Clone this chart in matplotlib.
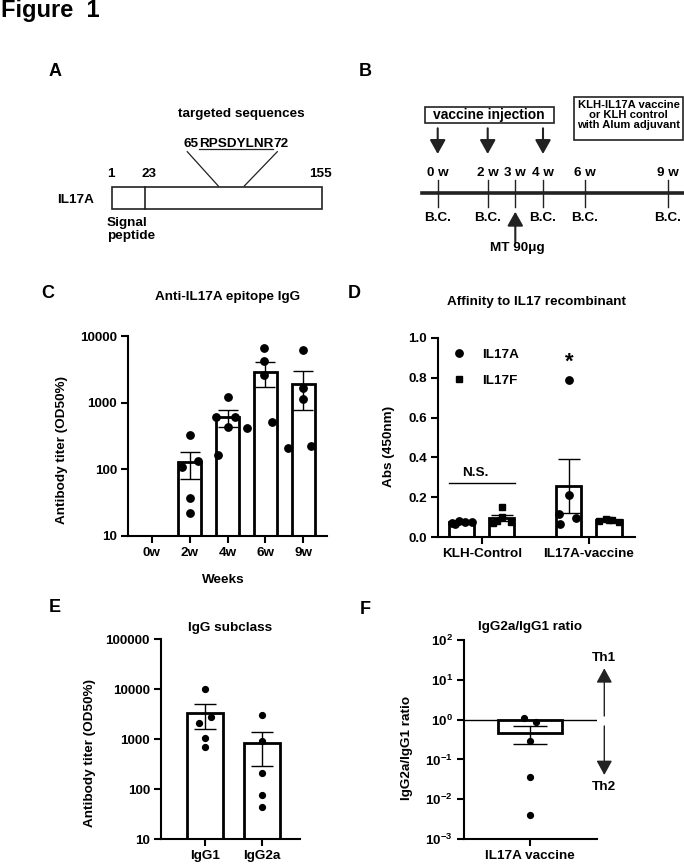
import numpy as np
import matplotlib.pyplot as plt
from matplotlib.patches import Rectangle
from matplotlib.ticker import NullLocator

plt.rcParams['font.family'] = 'Liberation Sans'
plt.rcParams['font.weight'] = 'bold'
plt.rcParams['axes.labelweight'] = 'bold'
plt.rcParams['axes.titleweight'] = 'bold'
plt.rcParams['font.size'] = 9.7
plt.rcParams['axes.titlesize'] = 9.7
plt.rcParams['axes.labelsize'] = 9.7
plt.rcParams['mathtext.fontset'] = 'custom'
plt.rcParams['mathtext.rm'] = 'Liberation Sans:bold'
plt.rcParams['mathtext.it'] = 'Liberation Sans:bold'
plt.rcParams['mathtext.bf'] = 'Liberation Sans:bold'
plt.rcParams['axes.linewidth'] = 1.5

# ---- data ----
# C: anti-IL17A epitope IgG titer, individual mice per week
weeks = ['0w', '2w', '4w', '6w', '9w']
titer_pts = [[],
             [330, 110, 135, 37, 22],
             [1220, 600, 600, 437, 162],
             [6500, 4270, 2640, 418, 515],
             [6170, 1650, 1125, 207, 221]]
titer_jit = [[],
             [0, -0.21, 0.23, 0, 0],
             [0, -0.31, 0.20, 0, -0.26],
             [-0.03, -0.03, -0.03, -0.49, 0.18],
             [0, 0, 0, -0.41, 0.21]]

# D: affinity to IL17A / IL17F recombinant
groups = ['KLH-Control', 'IL17A-vaccine']
il17a_pts = [[0.07, 0.08, 0.075, 0.075, 0.065],
             [0.788, 0.21, 0.114, 0.097, 0.064]]
il17a_jit = [[-0.09, -0.03, 0.03, 0.09, -0.06],
             [0, 0, -0.09, 0.07, -0.085]]
il17f_pts = [[0.15, 0.10, 0.07, 0.075, 0.08],
             [0.09, 0.085, 0.08, 0.075, 0.085]]
il17f_jit = [[0, 0, -0.085, 0.085, -0.05],
             [-0.03, 0.03, -0.09, 0.09, 0]]

# E: IgG subclass
subclasses = ['IgG1', 'IgG2a']
sub_pts = [[10000, 2100, 2700, 1050, 700],
           [3000, 900, 205, 77, 43]]
sub_jit = [[0, -0.11, 0.105, 0, 0],
           [0, 0, 0, 0, 0]]

# F: IgG2a/IgG1 ratio
ratio_pts = [1.12, 0.89, 0.286, 0.036, 0.0041]
ratio_jit = [-0.094, 0.1, 0, 0, 0]

# B: timeline
tl_weeks = ['0 w', '2 w', '3 w', '4 w', '6 w', '9 w']
tl_x = [437.7, 487.7, 515.3, 543, 584.7, 668]
bc_at = ['0 w', '2 w', '4 w', '6 w', '9 w']
inj_at = ['0 w', '2 w', '4 w']

W, H = 684, 866


def box(l, t, r, b):
    return [l / W, 1 - b / H, (r - l) / W, (b - t) / H]


def mean_sem(v):
    v = np.asarray(v, float)
    return v.mean(), v.std(ddof=1) / np.sqrt(len(v))


def style(ax):
    for s in ['top', 'right']:
        ax.spines[s].set_visible(False)
    ax.tick_params(length=5, width=1.5, pad=3, labelsize=9.7)


fig = plt.figure(figsize=(W / 100, H / 100), dpi=100)

# ---- C ----
axC = fig.add_axes(box(128, 336, 327, 536))
axC.set_yscale('log')
for i, pts in enumerate(titer_pts):
    if not pts:
        continue
    m, s = mean_sem(pts)
    axC.bar(i, m, width=0.61, color='white', edgecolor='black', lw=2, zorder=1)
    axC.errorbar(i, m, yerr=s, color='black', lw=1, capsize=7, capthick=1, zorder=2)
    axC.plot(i + np.array(titer_jit[i]), pts, 'o', color='black', ms=5.3, zorder=3)
axC.set_ylim(10, 10000)
axC.set_xlim(-0.63, 4.63)
axC.set_yticks([10, 100, 1000, 10000])
axC.set_yticklabels(['10', '100', '1000', '10000'])
axC.yaxis.set_minor_locator(NullLocator())
axC.set_xticks(range(len(weeks)))
axC.set_xticklabels(weeks)
axC.set_ylabel('Antibody titer (OD50%)')
axC.yaxis.set_label_coords(-0.30, 0.43)
axC.set_xlabel('Weeks')
axC.xaxis.set_label_coords(0.477, -0.19)
axC.set_title('Anti-IL17A epitope IgG', pad=26)
style(axC)

# ---- D ----
axD = fig.add_axes(box(438, 338, 635, 537))
off, bw = 0.187, 0.234
for g in range(len(groups)):
    for pts, jit, sgn, mk, ms in [(il17a_pts, il17a_jit, -1, 'o', 5.3),
                                  (il17f_pts, il17f_jit, 1, 's', 4.8)]:
        x = g + sgn * off
        m, s = mean_sem(pts[g])
        axD.bar(x, m, width=bw, color='white', edgecolor='black', lw=2, zorder=1)
        axD.errorbar(x, m, yerr=s, color='black', lw=1, capsize=8, capthick=1, zorder=2)
        axD.plot(x + np.array(jit[g]), pts[g], mk, color='black', ms=ms, zorder=3)
axD.set_ylim(0, 1.0)
axD.set_xlim(-0.41, 1.43)
axD.set_yticks([0, 0.2, 0.4, 0.6, 0.8, 1.0])
axD.set_yticklabels(['0.0', '0.2', '0.4', '0.6', '0.8', '1.0'])
axD.set_xticks(range(len(groups)))
axD.set_xticklabels(groups)
axD.set_ylabel('Abs (450nm)')
axD.yaxis.set_label_coords(-0.218, 0.454)
axD.set_title('Affinity to IL17 recombinant', pad=23.4)
h1, = axD.plot([], [], 'o', color='black', ms=5.3)
h2, = axD.plot([], [], 's', color='black', ms=4.8)
axD.legend([h1, h2], ['IL17A', 'IL17F'], loc='upper left', bbox_to_anchor=(0.074, 0.948),
           frameon=False, borderpad=0, borderaxespad=0, handlelength=1.0,
           handletextpad=1.18, labelspacing=1.0, fontsize=9.7)
axD.plot([-0.305, 0.311], [0.27, 0.27], color='black', lw=1)
axD.text(-0.063, 0.324, 'N.S.', ha='center', va='center')
axD.text(1 - off, 0.88, '*', ha='center', va='center', fontsize=16)
style(axD)

# ---- E ----
axE = fig.add_axes(box(161, 639, 300, 839))
axE.set_yscale('log')
for i, pts in enumerate(sub_pts):
    m, s = mean_sem(pts)
    axE.bar(i, m, width=0.63, color='white', edgecolor='black', lw=2, zorder=1)
    axE.errorbar(i, m, yerr=s, color='black', lw=1, capsize=8, capthick=1, zorder=2)
    axE.plot(i + np.array(sub_jit[i]), pts, 'o', color='black', ms=4.2, zorder=3)
axE.set_ylim(10, 100000)
axE.set_xlim(-0.77, 1.67)
axE.set_yticks([10, 100, 1000, 10000, 100000])
axE.set_yticklabels(['10', '100', '1000', '10000', '100000'])
axE.yaxis.set_minor_locator(NullLocator())
axE.set_xticks(range(len(subclasses)))
axE.set_xticklabels(subclasses)
axE.set_ylabel('Antibody titer (OD50%)')
axE.yaxis.set_label_coords(-0.468, 0.43)
axE.set_title('IgG subclass', pad=5.8)
style(axE)

# ---- F ----
axF = fig.add_axes(box(464, 640, 597, 839))
axF.set_yscale('log')
m, s = mean_sem(ratio_pts)
axF.axhline(1, color='black', lw=1, zorder=1)
axF.bar(0, m - 1, bottom=1, width=1.0, color='white', edgecolor='black', lw=2, zorder=2)
axF.errorbar(0, m, yerr=s, color='black', lw=1, capsize=12, capthick=1, zorder=3)
axF.plot(np.array(ratio_jit), ratio_pts, 'o', color='black', ms=4.2, zorder=4)
axF.set_ylim(1e-3, 1e2)
axF.set_xlim(-1.03, 1.05)
exps = [-3, -2, -1, 0, 1, 2]
axF.set_yticks([10.0 ** e for e in exps])
axF.set_yticklabels([r'$10^{%d}$' % e for e in exps])
axF.yaxis.set_minor_locator(NullLocator())
axF.set_xticks([0])
axF.set_xticklabels(['IL17A vaccine'])
axF.set_ylabel('IgG2a/IgG1 ratio')
axF.yaxis.set_label_coords(-0.383, 0.456)
axF.set_title('IgG2a/IgG1 ratio', pad=7.2)
style(axF)

# ---- overlay for diagrams and panel letters (pixel coords) ----
ax0 = fig.add_axes([0, 0, 1, 1], zorder=10)
ax0.set_xlim(0, W)
ax0.set_ylim(H, 0)
ax0.axis('off')
ax0.patch.set_alpha(0)

ax0.text(1, 11, 'Figure  1', fontsize=17, ha='left', va='center')
for lab, (x, y) in {'A': (55, 72), 'B': (365, 72), 'C': (48, 293),
                    'D': (354, 293), 'E': (55, 608), 'F': (365, 609)}.items():
    ax0.text(x, y, lab, fontsize=13, ha='center', va='center')

# A: IL17A domain scheme
ax0.add_patch(Rectangle((112, 186.7), 209.7, 22.6, fill=False, lw=1.2, ec='#222'))
ax0.plot([145, 145], [186.7, 209.3], color='#222', lw=1.2)
ax0.text(76, 200, 'IL17A', ha='center', va='center')
ax0.text(111, 174.3, '1', ha='center', va='center')
ax0.text(149.3, 174.3, '23', ha='center', va='center')
ax0.text(320, 174.3, '155', ha='center', va='center')
ax0.text(106.7, 229.5, 'Signal\npeptide', ha='left', va='center', linespacing=1.1)
ax0.text(241.7, 114.3, 'targeted sequences', ha='center', va='center')
ax0.plot([187.3, 218.3], [151.7, 186], color='#222', lw=0.9)
ax0.plot([277.3, 244.3], [151.7, 186], color='#222', lw=0.9)
mid = ax0.text(236, 146.8, 'RPSDYLNR', ha='center', va='baseline')
fig.canvas.draw()
bb = mid.get_window_extent().transformed(ax0.transData.inverted())
x0, x1 = sorted([bb.x0, bb.x1])
ax0.text(x0, 146.8, '65', ha='right', va='baseline')
ax0.text(x1, 146.8, '72', ha='left', va='baseline')
ax0.plot([x0, x1], [148.6, 148.6], color='#222', lw=0.9)

# B: immunization timeline
ax0.plot([422, 684], [193.3, 193.3], color='#222', lw=2.6)
arrow = dict(arrowstyle='-|>,head_length=0.5,head_width=0.28', mutation_scale=17,
             lw=1.5, color='#222', shrinkA=0, shrinkB=0)
for lab, x in zip(tl_weeks, tl_x):
    ax0.plot([x, x], [180, 206.7], color='#222', lw=1.0)
    ax0.text(x, 173.3, lab, ha='center', va='center')
    if lab in bc_at:
        ax0.text(x, 217.7, 'B.C.', ha='center', va='center')
    if lab in inj_at:
        ax0.annotate('', xy=(x, 154), xytext=(x, 128.3), arrowprops=arrow)
x3 = tl_x[tl_weeks.index('3 w')]
ax0.annotate('', xy=(x3, 211.7), xytext=(x3, 242.7), arrowprops=arrow)
ax0.text(517, 248.3, 'MT 90μg', ha='center', va='center')
ax0.add_patch(Rectangle((425.3, 106.7), 128.4, 16, fill=False, lw=1.2, ec='#222'))
ax0.text(489.3, 114.7, 'vaccine injection', ha='center', va='center', fontsize=10)
ax0.add_patch(Rectangle((574.3, 97.3), 108.4, 42.7, fill=False, lw=1.2, ec='#222'))
ax0.text(628.7, 114.6, 'KLH-IL17A vaccine\nor KLH control\nwith Alum adjuvant',
         ha='center', va='center', fontsize=8.1, linespacing=1.0)

# F: Th1 / Th2 arrows
farrow = dict(arrowstyle='-|>,head_length=0.55,head_width=0.3', mutation_scale=16,
              lw=1.0, color='#222', shrinkA=0, shrinkB=0)
ax0.annotate('', xy=(604.3, 668.3), xytext=(604.3, 716), arrowprops=farrow)
ax0.annotate('', xy=(604.3, 775), xytext=(604.3, 726), arrowprops=farrow)
ax0.text(604.3, 658.3, 'Th1', ha='center', va='center')
ax0.text(604.3, 786.7, 'Th2', ha='center', va='center')

fig.savefig('out.png', dpi=100)
